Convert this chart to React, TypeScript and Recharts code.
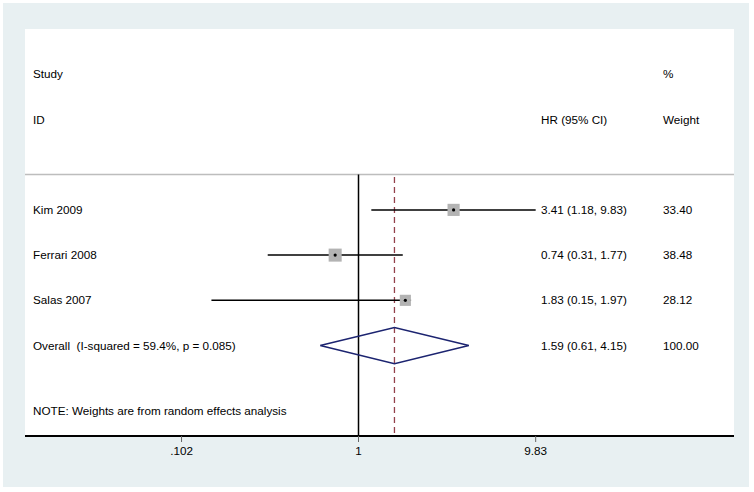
import React from 'react';
import { ComposedChart, XAxis, YAxis, Scatter, ReferenceLine, CartesianGrid } from 'recharts';

// forest plot values
const studies = ['Kim 2009', 'Ferrari 2008', 'Salas 2007'];
const hr = [3.41, 0.74, 1.83];
const ciLow = [1.18, 0.31, 0.15];
const ciHigh = [9.83, 1.77, 1.97];
const weights = [33.4, 38.48, 28.12];
const studyRows = [4, 5, 6];

const overallLabel = 'Overall  (I-squared = 59.4%, p = 0.085)';
const overallHr = 1.59;
const overallLow = 0.61;
const overallHigh = 4.15;
const overallWeight = 100.0;
const overallRow = 7;

const noteText = 'NOTE: Weights are from random effects analysis';
const noteRow = 8.45;
const headerRows = [1, 2];
const separatorRow = 3.22;

const xTicks = [0.102, 1, 9.83];
const xTickLabels = ['.102', '1', '9.83'];

// layout
const W = 754;
const H = 492;
const X_DOMAIN = [0.01354, 126.95];
const Y_DOMAIN = [0, 9];
const COL_STUDY = 33;
const COL_HR = 541;
const COL_WEIGHT = 663;
const DIAMOND_HALF = 0.4;
const FONT = '"Liberation Sans", Arial, sans-serif';

const fmtCi = (h: number, l: number, u: number) =>
  `${h.toFixed(2)} (${l.toFixed(2)}, ${u.toFixed(2)})`;

const leftText = [
  { x: 1, y: headerRows[0], label: 'Study' },
  { x: 1, y: headerRows[1], label: 'ID' },
  ...studies.map((s, i) => ({ x: 1, y: studyRows[i], label: s })),
  { x: 1, y: overallRow, label: overallLabel },
  { x: 1, y: noteRow, label: noteText },
];

const hrText = [
  { x: 1, y: headerRows[1], label: 'HR (95% CI)' },
  ...hr.map((h, i) => ({ x: 1, y: studyRows[i], label: fmtCi(h, ciLow[i], ciHigh[i]) })),
  { x: 1, y: overallRow, label: fmtCi(overallHr, overallLow, overallHigh) },
];

const weightText = [
  { x: 1, y: headerRows[0], label: '%' },
  { x: 1, y: headerRows[1], label: 'Weight' },
  ...weights.map((w, i) => ({ x: 1, y: studyRows[i], label: w.toFixed(2) })),
  { x: 1, y: overallRow, label: overallWeight.toFixed(2) },
];

const points = hr.map((h, i) => ({ x: h, y: studyRows[i], w: weights[i] }));

const diamond = [
  { x: overallLow, y: overallRow },
  { x: overallHr, y: overallRow - DIAMOND_HALF },
  { x: overallHigh, y: overallRow },
  { x: overallHr, y: overallRow + DIAMOND_HALF },
  { x: overallLow, y: overallRow },
];

const textShape = (colX: number) => (props: any) => (
  <text
    x={colX}
    y={props.cy}
    dy="0.35em"
    fontSize={11.7}
    fontFamily={FONT}
    fill="#000"
    style={{ whiteSpace: 'pre' }}
  >
    {props.payload.label}
  </text>
);

// box area proportional to weight
const squareShape = (props: any) => {
  const side = 2.1 * Math.sqrt(props.payload.w);
  return (
    <g>
      <rect x={props.cx - side / 2} y={props.cy - side / 2} width={side} height={side} fill="#b3b3b3" />
      <circle cx={props.cx} cy={props.cy} r={1.6} fill="#000" />
    </g>
  );
};

export default function App() {
  return (
    <div style={{ position: 'absolute', left: 0, top: 0, width: W, height: H, background: '#fff' }}>
      <div style={{ position: 'absolute', left: 3, top: 3, width: 746, height: 484, background: '#e8f0f2' }} />
      <div style={{ position: 'absolute', left: 0, top: 0 }}>
        <ComposedChart width={W} height={H} margin={{ top: 29, right: 20, bottom: 26, left: 25 }}>
          <CartesianGrid fill="#ffffff" stroke="none" horizontal={false} vertical={false} />
          <XAxis
            type="number"
            dataKey="x"
            scale="log"
            domain={X_DOMAIN}
            allowDataOverflow
            ticks={xTicks}
            tickFormatter={(v: number) => xTickLabels[xTicks.indexOf(v)] ?? String(v)}
            height={30}
            tickSize={6}
            tickMargin={5}
            axisLine={{ stroke: '#000', strokeWidth: 2 }}
            tickLine={{ stroke: '#666' }}
            tick={{ fill: '#000', fontSize: 11.7, fontFamily: FONT }}
          />
          <YAxis type="number" dataKey="y" domain={Y_DOMAIN} reversed hide />
          <ReferenceLine y={separatorRow} stroke="#bdbdbd" strokeWidth={1.5} />
          <ReferenceLine
            segment={[{ x: 1, y: separatorRow }, { x: 1, y: Y_DOMAIN[1] }]}
            stroke="#000"
            strokeWidth={1.5}
          />
          <ReferenceLine
            segment={[{ x: overallHr, y: separatorRow + 0.05 }, { x: overallHr, y: Y_DOMAIN[1] }]}
            stroke="#93404a"
            strokeWidth={1.3}
            strokeDasharray="6 4"
          />
          <Scatter data={points} shape={squareShape} isAnimationActive={false} />
          {hr.map((_, i) => (
            <ReferenceLine
              key={studies[i]}
              segment={[{ x: ciLow[i], y: studyRows[i] }, { x: ciHigh[i], y: studyRows[i] }]}
              stroke="#000"
              strokeWidth={1.5}
            />
          ))}
          <Scatter
            data={diamond}
            line={{ stroke: '#1c2470', strokeWidth: 1.5 }}
            shape={() => <g />}
            isAnimationActive={false}
          />
          <Scatter data={leftText} shape={textShape(COL_STUDY)} isAnimationActive={false} />
          <Scatter data={hrText} shape={textShape(COL_HR)} isAnimationActive={false} />
          <Scatter data={weightText} shape={textShape(COL_WEIGHT)} isAnimationActive={false} />
        </ComposedChart>
      </div>
    </div>
  );
}
